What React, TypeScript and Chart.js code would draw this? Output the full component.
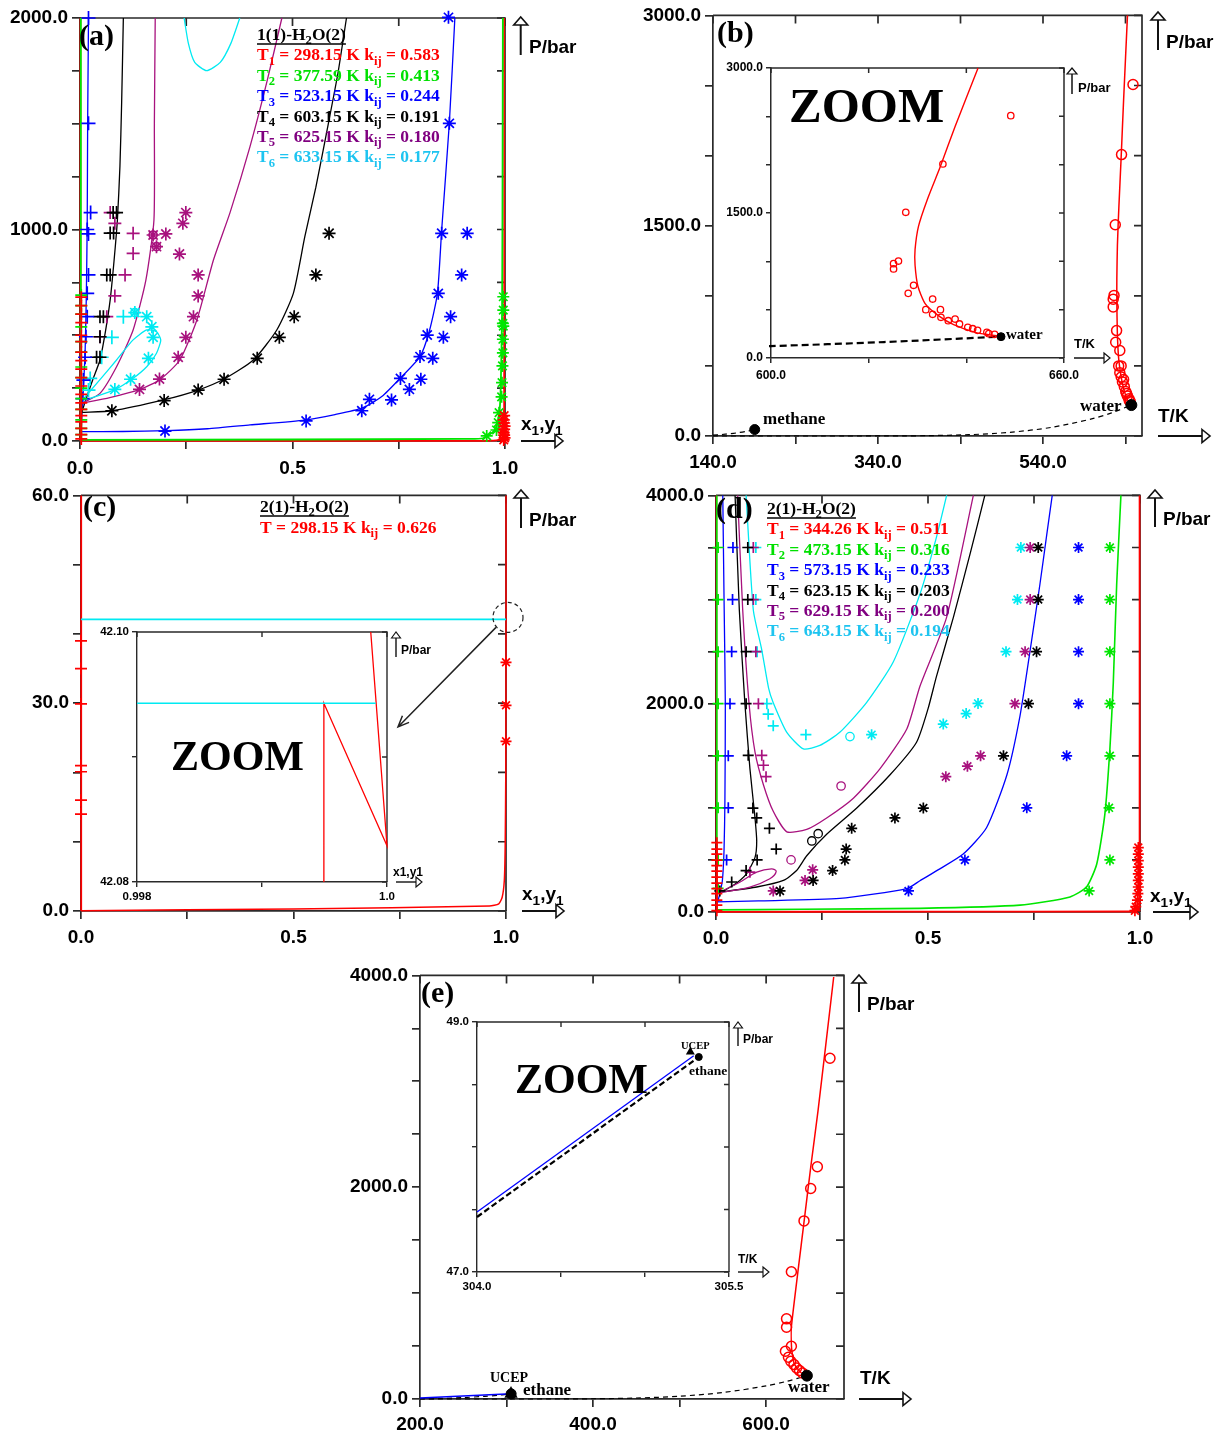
import React, { useEffect, useRef } from "react";
import { Chart, registerables } from "chart.js";
Chart.register(...registerables);

const SANS = "'Liberation Sans', Arial, sans-serif";
const SERIF = "'Liberation Serif', 'Times New Roman', serif";
Chart.defaults.font.family = SANS;

const RED = "#ff0000", GREEN = "#00e600", BLUE = "#0000ff", BLACK = "#000000";
const PURPLE = "#a8127e", CYAN = "#00eaf2";
const PURPLE_TXT = "#800080", CYAN_TXT = "#1ec4f0", GREEN_TXT = "#00e000";
const FRAME = "#2a2a2a";

type XY = number[][];

// ---------------- Panel (a): 1(1)-H2O(2) ----------------
const aRedLiq: XY = [[0.001, 0], [0.001, 2000]];
const aRedVap: XY = [[0, 0.5], [0.5, 0.6], [0.9, 1], [0.98, 3], [0.995, 20], [0.998, 100], [0.998, 2000]];
const aGreenLiq: XY = [[0.002, 0], [0.002, 2000]];
const aGreenVap: XY = [[0, 5], [0.5, 7], [0.9, 10], [0.948, 13], [0.976, 52], [0.986, 115], [0.99, 257], [0.993, 600], [0.994, 1045], [0.995, 2000]];
const aBlueLiq: XY = [[0.003, 44], [0.004, 100], [0.008, 250], [0.012, 420], [0.015, 700], [0.017, 1045], [0.018, 1500], [0.02, 2000]];
const aBlueVap: XY = [[0.003, 44], [0.1, 45], [0.204, 49], [0.3, 58], [0.4, 76], [0.529, 99], [0.6, 125], [0.663, 155], [0.71, 210], [0.753, 296], [0.8, 399], [0.822, 520], [0.841, 698], [0.851, 998], [0.869, 1502], [0.882, 2000]];
const aBlackLiq: XY = [[0.004, 135], [0.016, 209], [0.03, 290], [0.047, 383], [0.06, 520], [0.071, 667], [0.08, 850], [0.088, 1045], [0.094, 1300], [0.098, 1600], [0.102, 2000]];
const aBlackVap: XY = [[0.004, 135], [0.077, 143], [0.196, 194], [0.278, 241], [0.339, 293], [0.408, 383], [0.463, 525], [0.502, 698], [0.529, 966], [0.555, 1200], [0.58, 1456], [0.607, 1740], [0.627, 2000]];
const aPurpleLiq: XY = [[0.004, 178], [0.047, 225], [0.086, 351], [0.125, 525], [0.155, 761], [0.174, 1045], [0.175, 1500], [0.177, 2000]];
const aPurpleVap: XY = [[0.004, 178], [0.07, 205], [0.141, 244], [0.188, 290], [0.235, 383], [0.275, 572], [0.314, 856], [0.353, 1080], [0.4, 1392], [0.44, 1700], [0.475, 2000]];
const aCyanTop: XY = [[0.245, 2000], [0.255, 1880], [0.27, 1790], [0.298, 1751], [0.33, 1790], [0.355, 1880], [0.376, 2000]];
const aCyanLoop: XY = [[0.004, 190], [0.04, 212], [0.082, 243], [0.122, 292], [0.157, 351], [0.18, 415], [0.19, 478], [0.18, 517], [0.157, 525], [0.125, 478], [0.086, 383], [0.047, 290], [0.004, 190]];

const aRedPlus: XY = [[0.003, 680], [0.003, 640], [0.003, 600], [0.003, 560], [0.003, 500], [0.003, 470], [0.003, 420], [0.003, 380], [0.003, 340], [0.003, 300], [0.003, 260], [0.003, 220], [0.003, 180], [0.003, 150], [0.003, 120], [0.003, 90], [0.003, 60], [0.003, 30], [0.003, 10]];
const aRedStar: XY = [[0.998, 120], [0.997, 100], [0.998, 85], [0.999, 70], [0.998, 55], [0.997, 40], [0.998, 28], [0.999, 15], [0.997, 5]];
const aGreenPlus: XY = [[0.003, 690], [0.003, 640], [0.003, 600], [0.003, 540], [0.003, 470], [0.003, 420], [0.003, 350], [0.003, 300], [0.003, 250], [0.003, 200], [0.003, 150], [0.003, 100], [0.003, 60], [0.003, 30]];
const aGreenStar: XY = [[0.996, 682], [0.996, 619], [0.995, 556], [0.996, 543], [0.995, 481], [0.995, 417], [0.994, 355], [0.993, 276], [0.992, 209], [0.986, 134], [0.984, 87], [0.98, 52], [0.957, 24]];
const aBluePlus: XY = [[0.02, 2000], [0.02, 1502], [0.025, 1080], [0.017, 1000], [0.02, 979], [0.02, 785], [0.017, 698], [0.017, 588], [0.014, 493], [0.012, 396], [0.008, 288], [0.006, 200]];
const aBlueStar: XY = [[0.2, 47], [0.532, 95], [0.663, 143], [0.681, 197], [0.733, 194], [0.754, 296], [0.775, 244], [0.8, 399], [0.802, 292], [0.83, 391], [0.817, 501], [0.855, 490], [0.843, 698], [0.872, 588], [0.898, 785], [0.851, 982], [0.911, 982], [0.869, 1502], [0.867, 2003]];
const aBlackPlus: XY = [[0.078, 1080], [0.086, 1080], [0.071, 983], [0.079, 983], [0.063, 785], [0.071, 785], [0.047, 588], [0.055, 588], [0.047, 493], [0.039, 396], [0.047, 396]];
const aBlackStar: XY = [[0.075, 143], [0.198, 191], [0.278, 241], [0.339, 292], [0.417, 391], [0.469, 490], [0.504, 588], [0.555, 785], [0.586, 982]];
const aPurplePlus: XY = [[0.071, 1080], [0.082, 1029], [0.125, 982], [0.125, 887], [0.106, 785], [0.082, 686], [0.063, 588], [0.047, 493]];
const aPurpleStar: XY = [[0.14, 244], [0.187, 293], [0.231, 396], [0.249, 490], [0.267, 588], [0.278, 686], [0.278, 785], [0.234, 884], [0.202, 979], [0.18, 919], [0.172, 974], [0.242, 1029], [0.249, 1080]];
const aPurpleCircle: XY = [[0.18, 919], [0.172, 974]];
const aCyanPlus: XY = [[0.102, 588], [0.075, 490], [0.051, 396], [0.024, 296], [0.02, 241]];
const aCyanStar: XY = [[0.082, 244], [0.119, 292], [0.161, 391], [0.172, 490], [0.169, 540], [0.157, 588], [0.129, 607]];
const aCyanCircle: XY = [[0.129, 607]];

const aTicksX = [0, 0.25, 0.5, 0.75, 1];
const aLabelsX = [0, 0.5, 1];
const aTicksY = [0, 250, 500, 750, 1000, 1250, 1500, 1750, 2000];
const aLabelsY = [0, 1000, 2000];
const aLegend = [
  ["1", "298.15", "0.583"], ["2", "377.59", "0.413"], ["3", "523.15", "0.244"],
  ["4", "603.15", "0.191"], ["5", "625.15", "0.180"], ["6", "633.15", "0.177"],
];

// ---------------- Panel (b): T-P projection, methane + water ----------------
const bMethaneVap: XY = [[140, 6.4], [150, 10.4], [160, 15.9], [170, 23.3], [180, 32.9], [190.56, 45.99]];
const bWaterVap: XY = [[140, 0], [273.16, 0.006], [300, 0.035], [350, 0.42], [373.15, 1.01], [400, 2.46], [450, 9.32], [500, 26.4], [550, 61.2], [600, 123.5], [623.15, 165.2], [647.1, 220.6]];
const bCritLine: XY = [[647.8, 224], [645, 238], [642, 262], [637.4, 345], [634.5, 430], [631.6, 560], [630.1, 740], [629.5, 960], [629.5, 1121], [630.2, 1362], [632, 1638], [634.7, 1983], [637.7, 2396], [642.4, 3000]];
const bCircles: XY = [[649.1, 2507], [635.2, 2007], [627.6, 1507], [626.1, 1003], [625.1, 976], [625.1, 921], [629.2, 752], [628.1, 669], [633.1, 610], [631.7, 500], [634.7, 500], [633.1, 452], [634.8, 421], [636.3, 386], [637.7, 403], [638.6, 352], [640.3, 317], [641.3, 303], [642.3, 286], [644.2, 266], [644.6, 252], [645.8, 245]];
const bMethaneCrit: XY = [[190.56, 45.99]];
const bWaterCrit: XY = [[647.1, 220.6]];
const bTicksX = [140, 240, 340, 440, 540, 640];
const bLabelsX = [140, 340, 540];
const bTicksY = [0, 500, 1000, 1500, 2000, 2500, 3000];
const bLabelsY = [0, 1500, 3000];
const biTicksX = [600, 620, 640, 660];
const biLabelsX = [600, 660];

// ---------------- Panel (c): 2(1)-H2O(2) at 298.15 K ----------------
const cRedLiq: XY = [[0.0005, 0], [0.0005, 60]];
const cRedVap: XY = [[0, 0.05], [0.5, 0.3], [0.961, 0.71], [0.983, 1.04], [0.991, 1.99], [0.996, 4.36], [0.998, 9.1], [0.9995, 20], [1.0, 42.1], [1.0, 60]];
const cCyan: XY = [[0, 42.1], [1, 42.1]];
const cRedPlus: XY = [[0, 39.0], [0, 35.0], [0, 29.9], [0, 21.0], [0, 20.1], [0, 16.0], [0, 14.0]];
const cRedStar: XY = [[1.0, 35.9], [1.0, 29.7], [1.0, 24.5]];
const cTicksX = [0, 0.25, 0.5, 0.75, 1];
const cLabelsX = [0, 0.5, 1];
const cTicksY = [0, 10, 20, 30, 40, 50, 60];
const cLabelsY = [0, 30, 60];
const ciCyan: XY = [[0.998, 42.0943], [0.99991, 42.0943]];
const ciRed: XY = [[0.999495, 42.08], [0.999495, 42.0943], [1.0, 42.0829], [0.99987, 42.1]];
const ciTicksX = [0.998, 0.999, 1.0];
const ciLabelsX = [0.998, 1.0];
const ciTicksY = [42.08, 42.09, 42.1];
const ciLabelsY = [42.08, 42.1];

// ---------------- Panel (d): 2(1)-H2O(2) ----------------
const dRedLiq: XY = [[0.001, 0], [0.001, 4000]];
const dRedVap: XY = [[0, 2], [0.5, 3], [0.98, 5], [0.997, 30], [0.999, 200], [0.999, 4000]];
const dGreenLiq: XY = [[0.002, 20], [0.002, 4000]];
const dGreenVap: XY = [[0.002, 20], [0.2, 26], [0.481, 35], [0.717, 66], [0.835, 145], [0.874, 240], [0.898, 461], [0.917, 935], [0.929, 1567], [0.937, 2199], [0.945, 3147], [0.955, 4000]];
const dBlueLiq: XY = [[0.004, 98], [0.009, 177], [0.015, 300], [0.019, 600], [0.021, 1062], [0.022, 2000], [0.019, 3000], [0.016, 4000]];
const dBlueVap: XY = [[0.004, 98], [0.1, 106], [0.292, 130], [0.45, 224], [0.481, 300], [0.528, 414], [0.583, 556], [0.638, 809], [0.686, 1315], [0.717, 1883], [0.741, 2515], [0.764, 3147], [0.78, 3621], [0.793, 4000]];
const dBlackLiq: XY = [[0.013, 193], [0.041, 256], [0.072, 367], [0.092, 524], [0.096, 682], [0.092, 903], [0.08, 1377], [0.068, 2010], [0.055, 2900], [0.045, 4000]];
const dBlackVap: XY = [[0.013, 193], [0.096, 240], [0.159, 303], [0.19, 398], [0.214, 540], [0.261, 746], [0.332, 998], [0.41, 1315], [0.473, 1630], [0.5, 1950], [0.52, 2262], [0.56, 2831], [0.6, 3450], [0.634, 4000]];
const dPurpleU: XY = [[0.051, 4000], [0.063, 2900], [0.078, 2000], [0.092, 1536], [0.112, 1220], [0.135, 967], [0.167, 770], [0.214, 793], [0.261, 903], [0.324, 1093], [0.387, 1377], [0.45, 1757], [0.481, 2168], [0.544, 2831], [0.607, 4000]];
const dPurpleLoop: XY = [[0.005, 183], [0.057, 288], [0.096, 382], [0.131, 414], [0.142, 390], [0.127, 319], [0.08, 240], [0.005, 183]];
const dCyanU: XY = [[0.071, 4000], [0.088, 2900], [0.108, 2515], [0.124, 2150], [0.135, 2010], [0.167, 1725], [0.206, 1567], [0.245, 1599], [0.292, 1725], [0.355, 2010], [0.418, 2400], [0.481, 3052], [0.52, 3600], [0.544, 4000]];

const dRedPlus: XY = [666, 603, 556, 499, 445, 392, 335, 278, 224, 177, 114, 66, 13].map((p) => [0.002, p]);
const dRedStar: XY = [[0.996, 619], [0.996, 556], [0.996, 493], [0.996, 430], [0.996, 367], [0.996, 303], [0.996, 240], [0.995, 177], [0.994, 114], [0.99, 51], [0.988, 13]];
const dGreenPlus: XY = [3500, 3000, 2500, 2000, 1500, 1000, 500, 227].map((p) => [0.005, p]);
const dGreenStar: XY = [[0.929, 3500], [0.929, 3000], [0.929, 2500], [0.929, 2000], [0.929, 1500], [0.927, 1000], [0.929, 500], [0.88, 202]];
const dBluePlus: XY = [[0.04, 3500], [0.039, 3000], [0.037, 2500], [0.033, 2000], [0.029, 1500], [0.029, 1000], [0.025, 500]];
const dBlueStar: XY = [[0.855, 3500], [0.855, 3000], [0.855, 2500], [0.855, 2000], [0.827, 1500], [0.733, 1000], [0.587, 500], [0.454, 202]];
const dBlackPlus: XY = [[0.075, 3500], [0.075, 3000], [0.071, 2500], [0.071, 2000], [0.076, 1504], [0.087, 998], [0.096, 903], [0.126, 803], [0.142, 604], [0.097, 500], [0.071, 398], [0.037, 288], [0.009, 202]];
const dBlackStar: XY = [[0.76, 3500], [0.76, 3000], [0.756, 2500], [0.737, 2000], [0.678, 1500], [0.489, 998], [0.422, 903], [0.32, 803], [0.307, 604], [0.304, 500], [0.275, 398], [0.229, 303], [0.151, 202]];
const dBlackCircle: XY = [[0.226, 682], [0.241, 752]];
const dPurplePlus: XY = [[0.088, 3500], [0.088, 3000], [0.094, 2500], [0.1, 2000], [0.108, 1504], [0.112, 1409], [0.118, 1299], [0.08, 382]];
const dPurpleStar: XY = [[0.741, 3500], [0.741, 3000], [0.729, 2500], [0.705, 2000], [0.624, 1500], [0.593, 1400], [0.542, 1299], [0.228, 405], [0.21, 303], [0.135, 202]];
const dPurpleCircle: XY = [[0.295, 1210], [0.177, 500]];
const dCyanPlus: XY = [[0.094, 3500], [0.094, 3000], [0.097, 2500], [0.12, 2000], [0.123, 1899], [0.135, 1788], [0.212, 1703]];
const dCyanStar: XY = [[0.719, 3500], [0.711, 3000], [0.684, 2500], [0.618, 2003], [0.59, 1905], [0.536, 1804], [0.367, 1703]];
const dCyanCircle: XY = [[0.316, 1684]];
const dTicksY = [0, 500, 1000, 1500, 2000, 2500, 3000, 3500, 4000];
const dLabelsY = [0, 2000, 4000];
const dLegend = [
  ["1", "344.26", "0.511"], ["2", "473.15", "0.316"], ["3", "573.15", "0.233"],
  ["4", "623.15", "0.203"], ["5", "629.15", "0.200"], ["6", "643.15", "0.194"],
];

// ---------------- Panel (e): T-P projection, ethane + water ----------------
const eBlue: XY = [[200, 9], [305.2, 48.9]];
const eEthaneVap: XY = [[200, 2.2], [225, 5.9], [250, 13.0], [275, 25.5], [290, 35.1], [300, 43.6], [305.32, 48.72]];
const eWaterVap: XY = [[200, 0], [273.16, 0.006], [300, 0.035], [350, 0.42], [400, 2.46], [450, 9.32], [500, 26.4], [550, 61.2], [600, 123.5], [623.15, 165.2], [647.1, 220.6]];
const eCritLine: XY = [[648, 222], [642, 240], [638.6, 262], [632.2, 341], [629.4, 483], [629.3, 690], [643, 1618], [651.5, 2186], [660, 2723], [678.1, 3985]];
const eCircles: XY = [[673.8, 3218], [659.2, 2193], [651.5, 1988], [643.8, 1682], [629.2, 1202], [623.6, 757], [623.6, 678], [629.2, 498], [622.3, 451], [625.8, 394], [628.5, 356], [632.2, 325], [635.2, 293], [638.6, 268], [642, 246]];
const eUcep: XY = [[305.2, 48.9]];
const eEthaneCrit: XY = [[305.32, 48.72]];
const eWaterCrit: XY = [[647.1, 220.6]];
const eTicksX = [200, 300, 400, 500, 600];
const eLabelsX = [200, 400, 600];
const eiBlue: XY = [[304.0, 47.48], [305.29, 48.73]];
const eiEthaneVap: XY = [[304.0, 47.44], [305.32, 48.72]];
const eiUcep: XY = [[305.27, 48.76]];
const eiEthaneCrit: XY = [[305.32, 48.72]];
const eiTicksX = [304, 304.5, 305, 305.5];
const eiLabelsX = [304, 305.5];
const eiTicksY = [47, 47.5, 48, 48.5, 49];
const eiLabelsY = [47, 49];

// ---------------- helpers ----------------
const pts = (a: XY) => a.map(([x, y]) => ({ x, y }));

function lineDs(data: XY, color: string, extra: any = {}) {
  return {
    data: pts(data), showLine: true, borderColor: color, backgroundColor: color,
    borderWidth: 1.3, pointRadius: 0, pointHoverRadius: 0, tension: 0.2, fill: false, clip: 2, ...extra,
  };
}
function markDs(data: XY, color: string, style: string, r: number, extra: any = {}) {
  return {
    data: pts(data), showLine: false, pointStyle: style, pointRadius: r, pointHoverRadius: r,
    borderColor: color, pointBorderColor: color, backgroundColor: "rgba(0,0,0,0)",
    pointBackgroundColor: "rgba(0,0,0,0)", pointBorderWidth: 1.7, clip: false, ...extra,
  };
}
const dot = (data: XY, r: number) => markDs(data, BLACK, "circle", r, { pointBackgroundColor: BLACK, pointBorderWidth: 1 });

type Seg = [string, boolean?];
function rich(ctx: CanvasRenderingContext2D, x: number, y: number, segs: Seg[], size: number, color: string, family = SERIF, underline = false) {
  ctx.save();
  ctx.fillStyle = color;
  ctx.textAlign = "left";
  ctx.textBaseline = "alphabetic";
  let cx = x;
  for (const [t, sub] of segs) {
    const s = sub ? size * 0.72 : size;
    ctx.font = `bold ${s}px ${family}`;
    ctx.fillText(t, cx, y + (sub ? size * 0.25 : 0));
    cx += ctx.measureText(t).width;
  }
  if (underline) {
    ctx.strokeStyle = color;
    ctx.lineWidth = 1.3;
    ctx.beginPath();
    ctx.moveTo(x, y + 4);
    ctx.lineTo(cx, y + 4);
    ctx.stroke();
  }
  ctx.restore();
  return cx;
}
function text(ctx: CanvasRenderingContext2D, s: string, x: number, y: number, size: number, family = SERIF, color = BLACK) {
  ctx.save();
  ctx.font = `bold ${size}px ${family}`;
  ctx.fillStyle = color;
  ctx.textAlign = "left";
  ctx.textBaseline = "alphabetic";
  ctx.fillText(s, x, y);
  ctx.restore();
}
function upArrow(ctx: CanvasRenderingContext2D, x: number, yTop: number, len: number, hw: number, hh: number, lw = 2) {
  ctx.save();
  ctx.strokeStyle = "#111";
  ctx.lineWidth = lw;
  ctx.beginPath();
  ctx.moveTo(x, yTop + hh);
  ctx.lineTo(x, yTop + len);
  ctx.stroke();
  ctx.beginPath();
  ctx.moveTo(x - hw / 2, yTop + hh);
  ctx.lineTo(x, yTop);
  ctx.lineTo(x + hw / 2, yTop + hh);
  ctx.closePath();
  ctx.fillStyle = "#fff";
  ctx.fill();
  ctx.lineWidth = lw * 0.8;
  ctx.stroke();
  ctx.restore();
}
function rightArrow(ctx: CanvasRenderingContext2D, x0: number, y: number, x1: number, hl: number, hh: number, lw = 2) {
  ctx.save();
  ctx.strokeStyle = "#111";
  ctx.lineWidth = lw;
  ctx.beginPath();
  ctx.moveTo(x0, y);
  ctx.lineTo(x1 - hl, y);
  ctx.stroke();
  ctx.beginPath();
  ctx.moveTo(x1 - hl, y - hh / 2);
  ctx.lineTo(x1, y);
  ctx.lineTo(x1 - hl, y + hh / 2);
  ctx.closePath();
  ctx.fillStyle = "#fff";
  ctx.fill();
  ctx.lineWidth = lw * 0.8;
  ctx.stroke();
  ctx.restore();
}
function xyLabel(ctx: CanvasRenderingContext2D, x: number, y: number, size: number) {
  rich(ctx, x, y, [["x"], ["1", true], [","], ["y"], ["1", true]], size, BLACK, SANS);
}
function legend(ctx: CanvasRenderingContext2D, x: number, y0: number, head: string, rows: string[][], colors: string[]) {
  rich(ctx, x, y0, [[head.split("|")[0]], ["2", true], [head.split("|")[1]]], 17.5, BLACK, SERIF, true);
  rows.forEach((r, i) => {
    rich(ctx, x, y0 + 20.4 * (i + 1), [["T"], [r[0], true], [` = ${r[1]} K k`], ["ij", true], [` = ${r[2]}`]], 17.5, colors[i]);
  });
}

interface AxisSpec { min: number; max: number; ticks: number[]; labels: number[]; fmt: (v: number) => string; }
interface PanelSpec {
  id: string;
  box: { x: number; y: number; w: number; h: number };
  area: { l: number; t: number; r: number; b: number };
  x: AxisSpec; y: AxisSpec;
  font: number; tickLen: number; xPad: number; yPad: number; lw: number;
  datasets: any[];
  draw: (ctx: CanvasRenderingContext2D, chart: any) => void;
}

const f1 = (v: number) => v.toFixed(1);

function axisOpts(ax: AxisSpec, isX: boolean, spec: PanelSpec) {
  const { box, area } = spec;
  const range = ax.max - ax.min;
  return {
    type: "linear",
    position: isX ? "bottom" : "left",
    min: ax.min,
    max: ax.max,
    afterBuildTicks: (s: any) => { s.ticks = ax.ticks.map((v) => ({ value: v })); },
    afterFit: (s: any) => {
      if (isX) s.height = box.y + box.h - area.b;
      else s.width = area.l - box.x;
    },
    ticks: {
      autoSkip: false, maxRotation: 0, minRotation: 0, color: "#000",
      font: { family: SANS, size: spec.font, weight: "bold" },
      padding: isX ? spec.xPad : spec.yPad,
      callback: (v: number) => (ax.labels.some((l) => Math.abs(l - v) < range * 1e-6) ? ax.fmt(v) : ""),
    },
    grid: { display: true, drawOnChartArea: false, drawTicks: true, tickLength: spec.tickLen, color: FRAME, lineWidth: spec.lw },
    border: { display: true, color: FRAME, width: spec.lw },
  };
}

function buildConfig(spec: PanelSpec): any {
  const { box, area } = spec;
  const extras = {
    id: "extras_" + spec.id,
    beforeDatasetsDraw(chart: any) {
      const ctx = chart.ctx;
      const a = chart.chartArea;
      const sx = chart.scales.x, sy = chart.scales.y;
      ctx.save();
      ctx.strokeStyle = FRAME;
      ctx.lineWidth = spec.lw;
      ctx.beginPath();
      ctx.moveTo(a.left, a.top);
      ctx.lineTo(a.right, a.top);
      ctx.lineTo(a.right, a.bottom);
      ctx.stroke();
      ctx.beginPath();
      for (const t of sx.ticks) {
        const px = sx.getPixelForValue(t.value);
        ctx.moveTo(px, a.top);
        ctx.lineTo(px, a.top + spec.tickLen);
      }
      for (const t of sy.ticks) {
        const py = sy.getPixelForValue(t.value);
        ctx.moveTo(a.right, py);
        ctx.lineTo(a.right - spec.tickLen, py);
      }
      ctx.stroke();
      ctx.restore();
    },
    afterDraw(chart: any) {
      const ctx = chart.ctx;
      ctx.save();
      ctx.translate(-box.x, -box.y);
      spec.draw(ctx, chart);
      ctx.restore();
    },
  };
  return {
    type: "scatter",
    data: { datasets: spec.datasets },
    options: {
      responsive: false,
      maintainAspectRatio: false,
      animation: false,
      events: [],
      layout: { padding: { left: 0, top: area.t - box.y, right: box.x + box.w - area.r, bottom: 0 } },
      plugins: { legend: { display: false }, tooltip: { enabled: false } },
      scales: { x: axisOpts(spec.x, true, spec), y: axisOpts(spec.y, false, spec) },
    },
    plugins: [extras],
  };
}

const COLORS6 = [RED, GREEN_TXT, BLUE, BLACK, PURPLE_TXT, CYAN_TXT];
const dashed = (w: number, d: number[]) => ({ borderDash: d, borderWidth: w, tension: 0.3 });

const SPECS: PanelSpec[] = [
  {
    id: "a",
    box: { x: 0, y: 0, w: 620, h: 480 },
    area: { l: 80, t: 18, r: 505, b: 441 },
    x: { min: 0, max: 1, ticks: aTicksX, labels: aLabelsX, fmt: f1 },
    y: { min: 0, max: 2000, ticks: aTicksY, labels: aLabelsY, fmt: f1 },
    font: 19, tickLen: 8, xPad: 8, yPad: 4, lw: 1.7,
    datasets: [
      markDs(aRedPlus, RED, "cross", 6), markDs(aRedStar, RED, "star", 6),
      markDs(aGreenPlus, GREEN, "cross", 6), markDs(aGreenStar, GREEN, "star", 6),
      markDs(aBluePlus, BLUE, "cross", 7), markDs(aBlueStar, BLUE, "star", 6.5),
      markDs(aBlackPlus, BLACK, "cross", 6.5), markDs(aBlackStar, BLACK, "star", 6.5),
      markDs(aPurplePlus, PURPLE, "cross", 6.5), markDs(aPurpleStar, PURPLE, "star", 6.5), markDs(aPurpleCircle, PURPLE, "circle", 4),
      markDs(aCyanPlus, CYAN, "cross", 7), markDs(aCyanStar, CYAN, "star", 6.5), markDs(aCyanCircle, CYAN, "circle", 4),
      lineDs(aCyanTop, CYAN), lineDs(aCyanLoop, CYAN),
      lineDs(aPurpleLiq, PURPLE), lineDs(aPurpleVap, PURPLE),
      lineDs(aBlackLiq, BLACK), lineDs(aBlackVap, BLACK),
      lineDs(aBlueLiq, BLUE), lineDs(aBlueVap, BLUE),
      lineDs(aGreenLiq, GREEN, { borderWidth: 1.8 }), lineDs(aGreenVap, GREEN, { borderWidth: 1.8 }),
      lineDs(aRedLiq, RED, { borderWidth: 1.8 }), lineDs(aRedVap, RED, { borderWidth: 1.8 }),
    ],
    draw: (ctx) => {
      text(ctx, "(a)", 79, 45, 30);
      legend(ctx, 257, 40, "1(1)-H|O(2)", aLegend, COLORS6);
      upArrow(ctx, 520.7, 17, 38, 14, 8);
      text(ctx, "P/bar", 529, 53, 19, SANS);
      xyLabel(ctx, 521, 430, 19);
      rightArrow(ctx, 521, 441, 563, 8, 13);
    },
  },
  {
    id: "b",
    box: { x: 620, y: 0, w: 600, h: 480 },
    area: { l: 713, t: 12, r: 1142, b: 436 },
    x: { min: 140, max: 660, ticks: bTicksX, labels: bLabelsX, fmt: f1 },
    y: { min: 0, max: 3000, ticks: bTicksY, labels: bLabelsY, fmt: f1 },
    font: 19, tickLen: 8, xPad: 7, yPad: 4, lw: 1.7,
    datasets: [
      dot(bMethaneCrit, 5), dot(bWaterCrit, 5.5),
      markDs(bCircles, RED, "circle", 5, { pointBorderWidth: 1.5 }),
      lineDs(bCritLine, RED, { borderWidth: 1.5 }),
      lineDs(bMethaneVap, BLACK, dashed(1.2, [5, 4])),
      lineDs(bWaterVap, BLACK, dashed(1.2, [5, 4])),
    ],
    draw: (ctx) => {
      text(ctx, "(b)", 717, 42, 30);
      text(ctx, "methane", 763, 424, 17);
      text(ctx, "water", 1080, 411, 17);
      upArrow(ctx, 1158, 12, 38, 14, 8);
      text(ctx, "P/bar", 1166, 48, 19, SANS);
      text(ctx, "T/K", 1158, 422, 19, SANS);
      rightArrow(ctx, 1158, 436, 1210, 8, 13);
    },
  },
  {
    id: "bi",
    box: { x: 700, y: 50, w: 440, h: 340 },
    area: { l: 771, t: 68, r: 1064, b: 358 },
    x: { min: 600, max: 660, ticks: biTicksX, labels: biLabelsX, fmt: f1 },
    y: { min: 0, max: 3000, ticks: bTicksY, labels: bLabelsY, fmt: f1 },
    font: 12, tickLen: 5, xPad: 5, yPad: 3, lw: 1.5,
    datasets: [
      dot(bWaterCrit, 4),
      markDs(bCircles, RED, "circle", 3.2, { pointBorderWidth: 1.3 }),
      lineDs(bCritLine, RED, { borderWidth: 1.4 }),
      lineDs(bWaterVap, BLACK, { borderDash: [7, 4], borderWidth: 2.2, tension: 0.3 }),
    ],
    draw: (ctx) => {
      text(ctx, "ZOOM", 789, 122, 49);
      text(ctx, "water", 1006, 339, 15);
      upArrow(ctx, 1072, 68, 26, 10, 6, 1.5);
      text(ctx, "P/bar", 1078, 92, 13, SANS);
      text(ctx, "T/K", 1074, 348, 13, SANS);
      rightArrow(ctx, 1074, 358, 1110, 6, 10, 1.5);
    },
  },
  {
    id: "c",
    box: { x: 0, y: 480, w: 620, h: 480 },
    area: { l: 81, t: 490, r: 506, b: 911 },
    x: { min: 0, max: 1, ticks: cTicksX, labels: cLabelsX, fmt: f1 },
    y: { min: 0, max: 60, ticks: cTicksY, labels: cLabelsY, fmt: f1 },
    font: 19, tickLen: 8, xPad: 7, yPad: 4, lw: 1.7,
    datasets: [
      markDs(cRedPlus, RED, "cross", 6), markDs(cRedStar, RED, "star", 5.5),
      lineDs(cCyan, CYAN, { borderWidth: 1.6, tension: 0 }),
      lineDs(cRedLiq, RED, { borderWidth: 1.8, tension: 0 }),
      lineDs(cRedVap, RED, { borderWidth: 1.5 }),
    ],
    draw: (ctx, chart) => {
      text(ctx, "(c)", 83, 516, 30);
      rich(ctx, 260, 512, [["2(1)-H"], ["2", true], ["O(2)"]], 17.5, BLACK, SERIF, true);
      rich(ctx, 260, 533, [["T = 298.15 K k"], ["ij", true], [" = 0.626"]], 17.5, RED);
      upArrow(ctx, 521, 490, 38, 14, 8);
      text(ctx, "P/bar", 529, 526, 19, SANS);
      xyLabel(ctx, 522, 900, 19);
      rightArrow(ctx, 522, 911, 564, 8, 13);
      // dashed circle around (1.0, 42.1) and arrow to the zoom
      const cx = chart.scales.x.getPixelForValue(1) + box0(chart).x + 2;
      const cy = chart.scales.y.getPixelForValue(42.1) + box0(chart).y - 2;
      ctx.save();
      ctx.strokeStyle = "#222";
      ctx.lineWidth = 1.2;
      ctx.setLineDash([4, 3]);
      ctx.beginPath();
      ctx.arc(cx, cy, 15, 0, Math.PI * 2);
      ctx.stroke();
      ctx.setLineDash([]);
      ctx.lineWidth = 1.5;
      const x0 = cx - 12, y0 = cy + 10, x1 = 398, y1 = 727;
      ctx.beginPath();
      ctx.moveTo(x0, y0);
      ctx.lineTo(x1, y1);
      const ang = Math.atan2(y1 - y0, x1 - x0);
      ctx.moveTo(x1 - 12 * Math.cos(ang - 0.4), y1 - 12 * Math.sin(ang - 0.4));
      ctx.lineTo(x1, y1);
      ctx.lineTo(x1 - 12 * Math.cos(ang + 0.4), y1 - 12 * Math.sin(ang + 0.4));
      ctx.stroke();
      ctx.restore();
    },
  },
  {
    id: "ci",
    box: { x: 80, y: 615, w: 370, h: 300 },
    area: { l: 137, t: 632, r: 387, b: 882 },
    x: { min: 0.998, max: 1.0, ticks: ciTicksX, labels: ciLabelsX, fmt: (v) => (v > 0.9995 ? "1.0" : v.toFixed(3)) },
    y: { min: 42.08, max: 42.1, ticks: ciTicksY, labels: ciLabelsY, fmt: (v) => v.toFixed(2) },
    font: 11.5, tickLen: 5, xPad: 3, yPad: 3, lw: 1.4,
    datasets: [
      lineDs(ciCyan, CYAN, { borderWidth: 1.6, tension: 0 }),
      lineDs(ciRed, RED, { borderWidth: 1.3, tension: 0 }),
    ],
    draw: (ctx) => {
      text(ctx, "ZOOM", 171, 770, 42);
      upArrow(ctx, 396, 632, 25, 9, 6, 1.4);
      text(ctx, "P/bar", 401, 654, 12, SANS);
      text(ctx, "x1,y1", 393, 876, 12, SANS);
      rightArrow(ctx, 396, 882, 422, 6, 10, 1.4);
    },
  },
  {
    id: "d",
    box: { x: 620, y: 480, w: 600, h: 480 },
    area: { l: 716, t: 490, r: 1140, b: 912 },
    x: { min: 0, max: 1, ticks: cTicksX, labels: cLabelsX, fmt: f1 },
    y: { min: 0, max: 4000, ticks: dTicksY, labels: dLabelsY, fmt: f1 },
    font: 19, tickLen: 8, xPad: 7, yPad: 4, lw: 1.7,
    datasets: [
      markDs(dRedPlus, RED, "cross", 5.5), markDs(dRedStar, RED, "star", 5.5),
      markDs(dGreenPlus, GREEN, "cross", 5.5), markDs(dGreenStar, GREEN, "star", 5.5),
      markDs(dBluePlus, BLUE, "cross", 5.5), markDs(dBlueStar, BLUE, "star", 5.5),
      markDs(dBlackPlus, BLACK, "cross", 5.5), markDs(dBlackStar, BLACK, "star", 5.5), markDs(dBlackCircle, BLACK, "circle", 4.2, { pointBorderWidth: 1.3 }),
      markDs(dPurplePlus, PURPLE, "cross", 5.5), markDs(dPurpleStar, PURPLE, "star", 5.5), markDs(dPurpleCircle, PURPLE, "circle", 4.2, { pointBorderWidth: 1.3 }),
      markDs(dCyanPlus, CYAN, "cross", 5.5), markDs(dCyanStar, CYAN, "star", 5.5), markDs(dCyanCircle, CYAN, "circle", 4.2, { pointBorderWidth: 1.3 }),
      lineDs(dCyanU, CYAN), lineDs(dPurpleU, PURPLE), lineDs(dPurpleLoop, PURPLE, { tension: 0.35 }),
      lineDs(dBlackLiq, BLACK), lineDs(dBlackVap, BLACK),
      lineDs(dBlueLiq, BLUE), lineDs(dBlueVap, BLUE),
      lineDs(dGreenLiq, GREEN, { borderWidth: 1.6, tension: 0 }), lineDs(dGreenVap, GREEN, { borderWidth: 1.6 }),
      lineDs(dRedLiq, RED, { borderWidth: 1.6, tension: 0 }), lineDs(dRedVap, RED, { borderWidth: 1.8, tension: 0.1 }),
    ],
    draw: (ctx) => {
      text(ctx, "(d)", 716, 518, 30);
      legend(ctx, 767, 514, "2(1)-H|O(2)", dLegend, COLORS6);
      upArrow(ctx, 1155, 490, 37, 14, 8);
      text(ctx, "P/bar", 1163, 525, 19, SANS);
      xyLabel(ctx, 1150, 902, 19);
      rightArrow(ctx, 1153, 912, 1198, 8, 13);
    },
  },
  {
    id: "e",
    box: { x: 320, y: 960, w: 620, h: 474 },
    area: { l: 420, t: 975, r: 844, b: 1399 },
    x: { min: 200, max: 690, ticks: eTicksX, labels: eLabelsX, fmt: f1 },
    y: { min: 0, max: 4000, ticks: dTicksY, labels: dLabelsY, fmt: f1 },
    font: 19, tickLen: 8, xPad: 6, yPad: 4, lw: 1.7,
    datasets: [
      markDs(eUcep, BLACK, "triangle", 6, { pointBackgroundColor: BLACK }),
      dot(eEthaneCrit, 5), dot(eWaterCrit, 5.5),
      markDs(eCircles, RED, "circle", 5, { pointBorderWidth: 1.5 }),
      lineDs(eCritLine, RED, { borderWidth: 1.5, tension: 0.15 }),
      lineDs(eBlue, BLUE, { borderWidth: 1.6, tension: 0 }),
      lineDs(eEthaneVap, BLACK, dashed(1.2, [5, 4])),
      lineDs(eWaterVap, BLACK, dashed(1.2, [5, 4])),
    ],
    draw: (ctx) => {
      text(ctx, "(e)", 421, 1002, 30);
      text(ctx, "UCEP", 490, 1382, 14);
      text(ctx, "ethane", 523, 1395, 17);
      text(ctx, "water", 788, 1392, 17);
      upArrow(ctx, 859, 975, 37, 14, 8);
      text(ctx, "P/bar", 867, 1010, 19, SANS);
      text(ctx, "T/K", 860, 1384, 19, SANS);
      rightArrow(ctx, 859, 1399, 911, 8, 13);
    },
  },
  {
    id: "ei",
    box: { x: 420, y: 1005, w: 380, h: 300 },
    area: { l: 477, t: 1022, r: 729, b: 1272 },
    x: { min: 304, max: 305.5, ticks: eiTicksX, labels: eiLabelsX, fmt: f1 },
    y: { min: 47, max: 49, ticks: eiTicksY, labels: eiLabelsY, fmt: f1 },
    font: 11.5, tickLen: 5, xPad: 3, yPad: 3, lw: 1.4,
    datasets: [
      markDs(eiUcep, BLACK, "triangle", 3.5, { pointBackgroundColor: BLACK }),
      dot(eiEthaneCrit, 3.5),
      lineDs(eiBlue, BLUE, { borderWidth: 1.3, tension: 0 }),
      lineDs(eiEthaneVap, BLACK, { borderDash: [6, 3], borderWidth: 2.2, tension: 0 }),
    ],
    draw: (ctx) => {
      text(ctx, "ZOOM", 515, 1093, 42);
      text(ctx, "UCEP", 681, 1049, 10.5);
      text(ctx, "ethane", 689, 1075, 13.5);
      upArrow(ctx, 738, 1022, 24, 9, 6, 1.4);
      text(ctx, "P/bar", 743, 1043, 12, SANS);
      text(ctx, "T/K", 738, 1263, 12, SANS);
      rightArrow(ctx, 738, 1272, 769, 6, 10, 1.4);
    },
  },
];

// canvas offset of a chart (page coordinates of canvas origin)
function box0(chart: any) {
  const c = chart.canvas as HTMLCanvasElement;
  return { x: parseFloat(c.dataset.bx || "0"), y: parseFloat(c.dataset.by || "0") };
}

function ChartCanvas({ spec }: { spec: PanelSpec }) {
  const ref = useRef<HTMLCanvasElement>(null);
  useEffect(() => {
    const chart = new Chart(ref.current as HTMLCanvasElement, buildConfig(spec));
    return () => chart.destroy();
  }, []);
  const { box } = spec;
  return (
    <canvas
      ref={ref}
      width={box.w}
      height={box.h}
      data-bx={box.x}
      data-by={box.y}
      style={{ position: "absolute", left: box.x, top: box.y, width: box.w, height: box.h }}
    />
  );
}

export default function App() {
  return (
    <div style={{ position: "absolute", left: 0, top: 0, width: 1220, height: 1434, background: "#fff" }}>
      {SPECS.map((s) => (
        <ChartCanvas key={s.id} spec={s} />
      ))}
    </div>
  );
}
